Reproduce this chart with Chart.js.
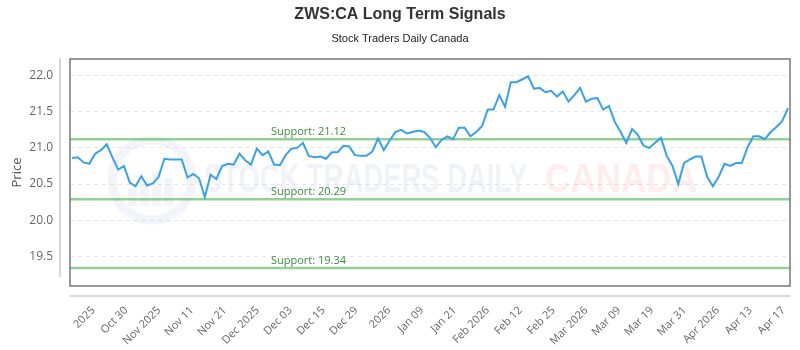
<!DOCTYPE html>
<html>
<head>
<meta charset="utf-8">
<script src="https://cdn.jsdelivr.net/npm/chart.js@4"></script>
<style>
  html, body { margin: 0; padding: 0; background: #fff; }
</style>
</head>
<body>
<canvas id="chart" width="800" height="350"></canvas>
<script>
// closing prices, one per trading day
const prices = [
  20.86, 20.87, 20.80, 20.78, 20.92, 20.97, 21.05, 20.87, 20.70, 20.75,
  20.52, 20.47, 20.61, 20.48, 20.51, 20.60, 20.85, 20.84, 20.84, 20.84,
  20.59, 20.64, 20.58, 20.32, 20.63, 20.57, 20.75, 20.78, 20.77, 20.92,
  20.83, 20.77, 20.99, 20.90, 20.95, 20.77, 20.76, 20.90, 20.99, 21.00,
  21.07, 20.89, 20.87, 20.88, 20.85, 20.94, 20.94, 21.03, 21.02, 20.90,
  20.89, 20.89, 20.95, 21.13, 20.97, 21.10, 21.22, 21.25, 21.20, 21.22,
  21.24, 21.22, 21.14, 21.01, 21.11, 21.16, 21.12, 21.28, 21.28, 21.16,
  21.22, 21.30, 21.53, 21.53, 21.73, 21.57, 21.91, 21.91, 21.95, 21.99,
  21.82, 21.83, 21.77, 21.79, 21.71, 21.78, 21.64, 21.73, 21.83, 21.64,
  21.68, 21.69, 21.53, 21.58, 21.36, 21.22, 21.07, 21.26, 21.18, 21.03,
  21.00, 21.07, 21.14, 20.89, 20.75, 20.50, 20.79, 20.84, 20.88, 20.88,
  20.60, 20.47, 20.60, 20.78, 20.75, 20.79, 20.79, 21.01, 21.16, 21.16,
  21.12, 21.22, 21.29, 21.37, 21.55
];

const tickLabels = [
  "2025", "Oct 30", "Nov 2025", "Nov 11", "Nov 21", "Dec 2025", "Dec 03",
  "Dec 15", "Dec 29", "2026", "Jan 09", "Jan 21", "Feb 2026", "Feb 12",
  "Feb 25", "Mar 2026", "Mar 09", "Mar 19", "Mar 31", "Apr 2026", "Apr 13",
  "Apr 17"
];

const supportLevels = [21.12, 20.29, 19.34];

const chartTitle = "ZWS:CA Long Term Signals";
const chartSubtitle = "Stock Traders Daily Canada";

// first / last tick position along the day index
const firstTick = 3.7;
const lastTick = 123.2;

Chart.defaults.font.family = "'Open Sans', sans-serif";
Chart.defaults.color = "#666";

function centeredText(ctx, text, font, color, cx, cy) {
  ctx.save();
  ctx.font = font;
  ctx.fillStyle = color;
  ctx.textAlign = "center";
  ctx.textBaseline = "middle";
  ctx.fillText(text, cx, cy);
  ctx.restore();
}

// watermark, support lines, titles, plot frame and the offset axis lines
const framePlugin = {
  id: "frame",
  beforeDatasetsDraw(chart) {
    const { ctx, chartArea: a, scales: { y } } = chart;
    ctx.save();

    // faint logo
    const cx = a.left + 82, cy = 180;
    ctx.strokeStyle = "rgba(195, 205, 228, 0.22)";
    ctx.lineWidth = 9;
    ctx.beginPath();
    ctx.arc(cx, cy, 40, 0, Math.PI * 2);
    ctx.stroke();
    ctx.fillStyle = "rgba(195, 205, 228, 0.22)";
    [[-24, 8, 18], [-12, 0, 26], [0, -8, 34], [12, -2, 28]].forEach(b => {
      ctx.fillRect(cx + b[0], cy + b[1], 9, b[2]);
    });

    // faint brand text
    ctx.textBaseline = "alphabetic";
    ctx.textAlign = "left";
    ctx.font = "bold 40px 'Liberation Sans', sans-serif";
    let txt = "STOCK TRADERS DAILY";
    let w = ctx.measureText(txt).width;
    ctx.save();
    ctx.translate(204, 192);
    ctx.scale(323 / w, 1);
    ctx.fillStyle = "rgba(200, 208, 228, 0.28)";
    ctx.fillText(txt, 0, 0);
    ctx.restore();
    txt = "CANADA";
    w = ctx.measureText(txt).width;
    ctx.save();
    ctx.translate(545, 192);
    ctx.scale(152 / w, 1);
    ctx.fillStyle = "rgba(255, 160, 160, 0.2)";
    ctx.fillText(txt, 0, 0);
    ctx.restore();

    // support levels
    ctx.font = "11px 'Open Sans', sans-serif";
    ctx.textBaseline = "alphabetic";
    supportLevels.forEach(level => {
      const py = y.getPixelForValue(level);
      ctx.strokeStyle = "rgba(76, 175, 80, 0.6)";
      ctx.lineWidth = 2.5;
      ctx.beginPath();
      ctx.moveTo(a.left, py);
      ctx.lineTo(a.right, py);
      ctx.stroke();
      ctx.fillStyle = "#3d8b40";
      ctx.fillText("Support: " + level.toFixed(2), a.left + 201, py - 4);
    });
    ctx.restore();
  },
  afterDraw(chart) {
    const { ctx, chartArea: a, width } = chart;
    centeredText(ctx, chartTitle, "bold 16px 'Liberation Sans', sans-serif", "#333", width / 2, 15);
    centeredText(ctx, chartSubtitle, "11px 'Liberation Sans', sans-serif", "#222", width / 2, 39);
    ctx.save();
    ctx.strokeStyle = "#777";
    ctx.lineWidth = 1.5;
    ctx.strokeRect(a.left, a.top, a.right - a.left, a.bottom - a.top);
    ctx.strokeStyle = "#ccc";
    ctx.lineWidth = 1.5;
    ctx.beginPath();
    ctx.moveTo(a.left - 10, a.top - 1);
    ctx.lineTo(a.left - 10, a.bottom - 9);
    ctx.moveTo(a.left, a.bottom + 10);
    ctx.lineTo(a.right, a.bottom + 10);
    ctx.stroke();
    ctx.restore();
  }
};

const ctx = document.getElementById("chart").getContext("2d");
new Chart(ctx, {
  type: "line",
  data: {
    datasets: [{
      label: "ZWS:CA",
      data: prices.map((p, i) => ({ x: i, y: p })),
      borderColor: "#36a2eb",
      backgroundColor: "#36a2eb",
      borderWidth: 2,
      pointRadius: 0,
      tension: 0,
      fill: false
    }]
  },
  options: {
    responsive: false,
    animation: false,
    layout: { padding: { left: 5, right: 10, top: 59, bottom: 0 } },
    plugins: {
      legend: { display: false },
      tooltip: { enabled: false },
      title: { display: false },
      subtitle: { display: false }
    },
    scales: {
      x: {
        type: "linear",
        min: -0.35,
        max: prices.length - 1 + 0.35,
        grid: { display: false, drawTicks: false },
        border: { display: false },
        afterBuildTicks(scale) {
          const step = (lastTick - firstTick) / (tickLabels.length - 1);
          scale.ticks = tickLabels.map((t, k) => ({ value: firstTick + k * step }));
        },
        afterFit(scale) {
          scale.height = 64;
          scale.paddingLeft = 0;
          scale.paddingRight = 0;
        },
        ticks: {
          autoSkip: false,
          maxRotation: 45,
          minRotation: 45,
          padding: 18,
          font: { size: 11 },
          callback: (v, i) => tickLabels[i]
        }
      },
      y: {
        min: 19.09,
        max: 22.23,
        title: { display: true, text: "Price", font: { size: 13 }, color: "#555" },
        grid: { color: "#e6e6e6", drawTicks: false },
        border: { display: false, dash: [4, 4] },
        afterFit(scale) {
          scale.width = 65;
          scale.paddingTop = 0;
          scale.paddingBottom = 0;
        },
        ticks: {
          stepSize: 0.5,
          includeBounds: false,
          padding: 17,
          font: { size: 12 },
          callback: v => v.toFixed(1)
        }
      }
    }
  },
  plugins: [framePlugin]
});
</script>
</body>
</html>
